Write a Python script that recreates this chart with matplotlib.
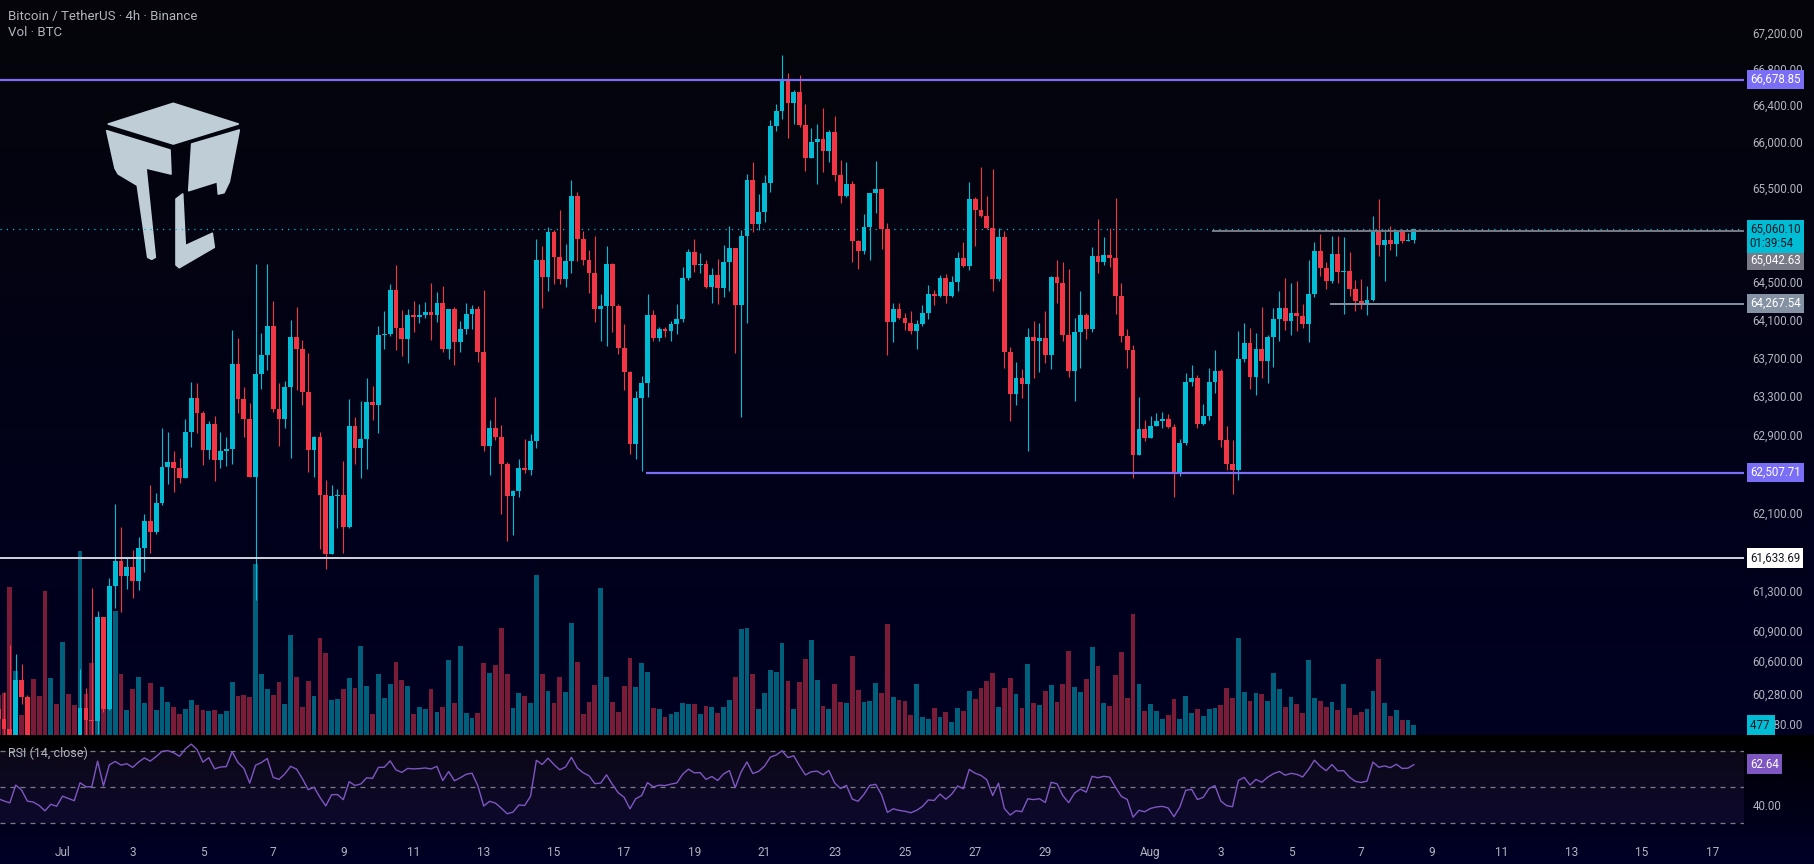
import numpy as np
import pandas as pd
import matplotlib
matplotlib.use("Agg")
import matplotlib.pyplot as plt
import matplotlib.dates as mdates
from matplotlib.patches import Polygon
from matplotlib.ticker import FixedLocator, NullLocator, NullFormatter

plt.rcParams["font.family"] = ["Roboto", "DejaVu Sans"]

# BTCUSDT 4h candles, first bar 2024-06-29 04:00, one row per day
start = "2024-06-29 04:00"
first_open = 60120

close = [
    60025, 59930, 59860, 60414, 60239,                # Jun 29
    59800, 59760, 59620, 59380, 59560, 59480,         # Jun 30
    59760, 59680, 59600, 60137, 60011, 60008,         # Jul 1
    61043, 60127, 61354, 61608, 61456, 61547,
    61405, 61740, 62014, 61902, 62197, 62566,
    62617, 62556, 62453, 62927, 63280, 63124,
    62741, 63010, 62638, 62731, 62751, 63634,         # Jul 5
    63269, 63062, 62463, 63530, 63728, 64033,
    63165, 63062, 63394, 63917, 63791, 63342,
    62741, 62876, 62279, 61679, 62269, 62279,
    61953, 62989, 62762, 62855, 63238, 63207,
    63938, 63948, 64412, 64011, 63896, 64148,         # Jul 10
    64127, 64148, 64180, 64148, 64275, 63791,
    64212, 63864, 64001, 64159, 64212, 63760,
    62782, 62969, 62876, 62597, 62269, 62320,
    62556, 62535, 62835, 64731, 64551, 65030,
    64763, 64530, 64720, 65416, 64955, 64731,         # Jul 15
    64593, 64212, 64243, 64689, 64243, 63801,
    63550, 62803, 63280, 63436, 64148, 63906,
    64001, 63980, 64054, 64106, 64540, 64816,
    64678, 64689, 64444, 64572, 64433, 64710,
    64859, 64254, 64987, 65588, 65115, 65244,         # Jul 20
    65556, 66172, 66336, 66664, 66423, 66544,
    66183, 65827, 66000, 66032, 65902, 66108,
    65642, 65416, 65545, 64933, 64827, 65083,
    65448, 65491, 65061, 64075, 64212, 64117,
    64064, 63980, 64054, 64170, 64370, 64349,         # Jul 25
    64540, 64349, 64498, 64752, 64667, 65384,
    65266, 65201, 65072, 64530, 64976, 63760,
    63322, 63488, 63425, 63917, 63875, 63906,
    63728, 64551, 64487, 63938, 63561, 63969,
    64148, 64001, 64773, 64710, 64784, 64752,         # Jul 30
    64349, 63927, 63781, 62690, 62958, 62866,
    62989, 63041, 63062, 62979, 62505, 62814,         # Aug 1
    63446, 63488, 63010, 63093, 63446, 63561,
    62845, 62597, 62535, 63686, 63854, 63498,
    63791, 63665, 63917, 64106, 64222, 64085,
    64170, 64138, 64054, 64370, 64827, 64646,         # Aug 5
    64508, 64795, 64604, 64614, 64423, 64296,
    64264, 64307, 65030, 64890, 64944, 64901,
    65030, 64933, 64944, 65060.10,                    # Aug 8
]

high = [
    60180, 60295, 60764, 60674, 60573,
    60265, 59860, 59800, 59650, 59620, 59600,
    59820, 59800, 59720, 60523, 60335, 61334,
    61103, 61043, 61435, 62187, 61953, 61638,
    61719, 61851, 62085, 62382, 62300, 62969,
    62927, 62731, 62658, 63061, 63446, 63436,
    63145, 63041, 63093, 62927, 62876, 63990,
    63906, 63394, 63228, 64689, 63958, 64689,
    64296, 63436, 63457, 64096, 64233, 63885,
    63749, 62886, 62927, 62433, 62382, 62341,
    62628, 63269, 63082, 63249, 63488, 63405,
    64033, 64190, 64476, 64678, 64201, 64212,
    64296, 64264, 64285, 64487, 64391, 64455,
    64212, 64233, 64085, 64275, 64254, 64243,
    64412, 63051, 63290, 63000, 62617, 62330,
    62648, 62855, 62907, 64955, 64880, 65083,
    65051, 65266, 64901, 65588, 65459, 65040,
    64837, 64987, 64370, 64880, 64699, 64264,
    64054, 63561, 63353, 63509, 64370, 64201,
    64022, 64022, 64085, 64264, 64657, 64848,
    64955, 64805, 64731, 64646, 64741, 64890,
    65094, 64859, 65051, 65653, 65783, 65438,
    65642, 66238, 66412, 66950, 66752, 66566,
    66730, 66412, 66151, 66194, 66369, 66130,
    66282, 65805, 65783, 65577, 64944, 65223,
    65448, 65794, 65491, 65126, 64275, 64275,
    64170, 64190, 64096, 64254, 64466, 64412,
    64572, 64583, 64561, 64816, 64922, 65567,
    65405, 65729, 65416, 65708, 65072, 65040,
    63812, 63655, 63582, 64011, 64085, 64064,
    64190, 64561, 64731, 64710, 64636, 64117,
    64402, 64170, 64869, 65169, 64976, 65072,
    65395, 64487, 64001, 63833, 63290, 63051,
    63093, 63124, 63134, 63114, 63010, 62855,
    63540, 63623, 63519, 63217, 63592, 63781,
    63582, 62989, 62845, 63980, 64064, 64011,
    63958, 64233, 63938, 64222, 64402, 64540,
    64487, 64508, 64264, 64731, 64922, 65008,
    64710, 64987, 64987, 64976, 64816, 64519,
    64529, 64455, 65201, 65384, 65061, 65094,
    65051, 65061, 65019, 65061,
]

low = [
    59950, 59850, 59800, 59820, 60176,
    59720, 59650, 59560, 59300, 59340, 59420,
    59460, 59620, 59540, 59560, 59850, 59860,
    59875, 60090, 60117, 61133, 61093, 61324,
    61234, 61314, 61496, 61689, 61880, 62177,
    62392, 62310, 62402, 62453, 62772, 62917,
    62587, 62648, 62422, 62556, 62576, 62597,
    63124, 62876, 62463, 61214, 63373, 63571,
    63134, 62782, 62969, 62658, 63363, 63207,
    62515, 62463, 61729, 61526, 61679, 61942,
    61689, 61942, 62597, 62453, 62545, 63051,
    62917, 63791, 63927, 63781, 63718, 63644,
    63969, 64064, 64117, 63885, 64075, 63760,
    63686, 63623, 63760, 63948, 64001, 63655,
    62731, 62484, 62845, 62085, 61810, 61871,
    62259, 62505, 62484, 62762, 64222, 64402,
    64476, 64476, 64444, 64593, 64720, 64678,
    64381, 64075, 63875, 63823, 63969, 63739,
    63363, 62700, 62648, 62525, 63290, 63875,
    63875, 63917, 63875, 63948, 64075, 64519,
    64604, 64593, 64433, 64275, 64264, 64338,
    64402, 63750, 63082, 64064, 65030, 65051,
    65137, 65459, 66118, 66249, 66043, 66194,
    66162, 65686, 65913, 65545, 65675, 65783,
    65577, 65341, 65405, 64710, 64636, 64795,
    64731, 65233, 64848, 63728, 63864, 64106,
    63990, 63948, 63791, 64033, 64106, 64254,
    64338, 64275, 64338, 64402, 64657, 64625,
    64880, 65190, 65061, 64402, 64508, 63592,
    63041, 63207, 63280, 62731, 63488, 63550,
    63644, 63582, 64275, 63875, 63498, 63249,
    63592, 63896, 63969, 64593, 64678, 64657,
    64159, 63864, 63592, 62453, 62690, 62835,
    62866, 63000, 62969, 62969, 62259, 62474,
    62793, 63405, 62969, 63000, 63051, 63332,
    62772, 62535, 62289, 62433, 63655, 63373,
    63311, 63488, 63436, 63603, 63875, 63990,
    63938, 63980, 64011, 63864, 64338, 64561,
    64423, 64487, 64487, 64159, 64349, 64190,
    64212, 64148, 64296, 64773, 64508, 64837,
    64773, 64912, 64933, 64912,
]

volume = [
    1910, 2000, 7060, 3050, 950,
    1670, 2670, 1860, 6870, 2720, 1480,
    4440, 1960, 1430, 8780, 1960, 3430,
    5250, 3820, 4290, 5920, 2910, 1190,
    2190, 2770, 1530, 2480, 1190, 2290,
    1570, 1340, 1000, 1240, 1670, 1430,
    1190, 1150, 1190, 1000, 1150, 2530,
    1860, 1910, 1810, 8160, 2910, 2190,
    1910, 2530, 1480, 4770, 2770, 1340,
    2580, 1860, 4630, 3910, 1670, 1720,
    2190, 2720, 2240, 4250, 2340, 1000,
    2910, 1770, 2430, 3480, 2620, 2340,
    1000, 1340, 1240, 2190, 1100, 1340,
    3580, 1530, 4250, 1050, 810, 1050,
    3430, 2960, 3340, 5100, 2910, 1290,
    2000, 1860, 1530, 7630, 2910, 2100,
    1530, 2770, 2050, 5340, 3480, 1000,
    1570, 2390, 7010, 2770, 1570, 1100,
    2340, 3670, 2290, 3430, 3010, 1290,
    1240, 860, 1000, 1100, 1530, 1480,
    1480, 1000, 1380, 1340, 1050, 1340,
    1670, 2770, 5060, 5100, 2910, 1240,
    2000, 3100, 3010, 4390, 2580, 1240,
    2530, 3630, 4530, 2620, 1380, 1240,
    2430, 1570, 1530, 3770, 2150, 1570,
    1620, 2480, 2000, 5300, 1810, 1670,
    1620, 950, 2430, 860, 760, 1290,
    860, 1100, 620, 1290, 1150, 2100,
    1720, 2240, 2580, 2960, 1340, 2240,
    2720, 1960, 1290, 3390, 1530, 1430,
    2100, 2390, 1570, 2430, 4010, 2290,
    2050, 2670, 4200, 3290, 1530, 1380,
    2860, 3960, 1770, 5770, 2430, 1150,
    1480, 1150, 760, 950, 1720, 760,
    1860, 1050, 1240, 910, 1240, 1290,
    1430, 2240, 1770, 4630, 2050, 1620,
    2000, 1960, 1620, 2960, 2190, 1340,
    1810, 1480, 1050, 3580, 1770, 1620,
    1340, 1570, 1190, 2430, 1290, 950,
    1100, 1240, 2100, 3630, 1530, 910,
    1190, 720, 720, 477,
]

# horizontal levels drawn on the chart: (price, start time or None, colour)
levels = [
    (66678.85, None, "#7b6ef6"),
    (62507.71, "2024-07-17 15:00", "#7b6ef6"),
    (61633.69, None, "#d1d4dc"),
    (65042.63, "2024-08-02 18:00", "#787b86"),
    (64267.54, "2024-08-06 03:00", "#8592a3"),
]
last_price = 65060.10
countdown = "01:39:54"
rsi_last_shown = 62.64

price_ticks = [67200, 66800, 66400, 66000, 65500, 64500, 64100, 63700, 63300,
               62900, 62100, 61700, 61300, 60900, 60600, 60280, 59980]
date_ticks = ["2024-07-01", "2024-07-03", "2024-07-05", "2024-07-07", "2024-07-09",
              "2024-07-11", "2024-07-13", "2024-07-15", "2024-07-17", "2024-07-19",
              "2024-07-21", "2024-07-23", "2024-07-25", "2024-07-27", "2024-07-29",
              "2024-08-01", "2024-08-03", "2024-08-05", "2024-08-07", "2024-08-09",
              "2024-08-11", "2024-08-13", "2024-08-15", "2024-08-17"]
date_labels = ["Jul", "3", "5", "7", "9", "11", "13", "15", "17", "19", "21", "23",
               "25", "27", "29", "Aug", "3", "5", "7", "9", "11", "13", "15", "17"]

RSI_LEN = 14
RSI_SEED_GAIN = 110.0
RSI_SEED_LOSS = 135.0

UP = "#00bcd4"
DOWN = "#f23645"
UP_VOL = "#005f7a"
DOWN_VOL = "#7a1b38"
TXT = "#b2b5be"
PURPLE = "#7e57c2"

W, H = 1815, 864


def wilder_rsi(closes, prev_close, seed_gain, seed_loss, n):
    chg = np.diff(np.r_[prev_close, closes])
    ag, al = seed_gain, seed_loss
    out = []
    for d in chg:
        ag = (ag * (n - 1) + max(d, 0)) / n
        al = (al * (n - 1) + max(-d, 0)) / n
        out.append(100 - 100 / (1 + ag / al))
    return np.array(out)


c = np.array(close, dtype=float)
o = np.r_[first_open, c[:-1]]
hi = np.maximum(np.array(high, dtype=float), np.maximum(o, c))
lo = np.minimum(np.array(low, dtype=float), np.minimum(o, c))
vol = np.array(volume, dtype=float)
t = pd.date_range(start, periods=len(c), freq="4h")
x = mdates.date2num(t)
up = c >= o
rsi = wilder_rsi(c, first_open, RSI_SEED_GAIN, RSI_SEED_LOSS, RSI_LEN)

day0 = mdates.date2num(pd.Timestamp("2024-07-01"))
xlim = (day0 - 1.781, day0 + 47.906)
bar_w = 0.82 / 6

fig = plt.figure(figsize=(W / 100, H / 100), dpi=100)

# background: one dark gradient per pane
bg = fig.add_axes([0, 0, 1, 1], zorder=-10)
rows = np.zeros((H, 1, 3))
top_c, bot_c = np.array([5, 5, 10]) / 255, np.array([0, 0, 34]) / 255
k = np.linspace(0, 1, 735)[:, None]
rows[:735, 0, :] = top_c * (1 - k) + bot_c * k
k = np.linspace(0, 1, H - 735)[:, None]
rows[735:, 0, :] = np.array([0, 0, 0]) * (1 - k) + np.array([0, 0, 40]) / 255 * k
bg.imshow(rows, extent=(0, W, H, 0), aspect="auto", interpolation="bilinear")
bg.set_xlim(0, W)
bg.set_ylim(H, 0)
bg.axis("off")

# logo
logo_col = "#bfcdd6"
logo_parts = [
    [(108.3, 124), (173.3, 103.3), (238.3, 124), (173.3, 144)],
    [(106.7, 130.7), (170, 150), (171, 174), (146, 168), (155.3, 257.3),
     (151.7, 259.3), (147.7, 257.3), (137.3, 185.3), (118.3, 174), (115, 168.3)],
    [(191.7, 144), (239.3, 130), (229.3, 181.7), (224, 192.7), (218.3, 194),
     (217.3, 181.7), (188.7, 190.7)],
    [(176, 199), (182.7, 194), (185.3, 245.7), (212.3, 233.3), (214.3, 247.3),
     (179.3, 267.7), (176, 265)],
]
for part in logo_parts:
    bg.add_patch(Polygon(part, closed=True, fc=logo_col, ec=logo_col, lw=1.2,
                         joinstyle="round"))

fig.text(8 / W, 1 - 16.5 / H, "Bitcoin / TetherUS · 4h · Binance", color=TXT,
         fontsize=9.5, va="center", ha="left")
fig.text(8 / W, 1 - 33 / H, "Vol · BTC", color=TXT, fontsize=9.5, va="center", ha="left")

# main price pane
pane_w = 1744 / W
ax = fig.add_axes([0, 1 - 735 / H, pane_w, 735 / H])
vax = ax.twinx()
ax.set_zorder(vax.get_zorder() + 1)
ax.patch.set_visible(False)
vax.patch.set_visible(False)

vax.bar(x, vol, width=bar_w, color=np.where(up, UP_VOL, DOWN_VOL), lw=0)
vax.set_ylim(0, 35060)
vax.set_yticks([])

ax.set_yscale("log")
ax.vlines(x, lo, hi, colors=np.where(up, UP, DOWN), lw=0.8, zorder=3)
ax.bar(x, np.maximum(np.abs(c - o), 8), bottom=np.minimum(o, c), width=bar_w,
       color=np.where(up, UP, DOWN), lw=0, zorder=4)

ax.axhline(last_price, color=UP, lw=0.9, ls=(0, (1, 4)), zorder=2)
for price, t0, col in levels:
    x0 = xlim[0] if t0 is None else mdates.date2num(pd.Timestamp(t0))
    lw = 1.6 if col == "#7b6ef6" else 1.4
    ax.hlines(price, x0, xlim[1], color=col, lw=lw, zorder=5)

ax.set_xlim(*xlim)
ax.set_ylim(59868, 67558)
ax.yaxis.tick_right()
ax.yaxis.set_major_locator(FixedLocator(price_ticks))
ax.yaxis.set_major_formatter(plt.FuncFormatter(lambda v, p: f"{v:,.2f}"))
ax.yaxis.set_minor_locator(NullLocator())
ax.yaxis.set_minor_formatter(NullFormatter())
ax.tick_params(axis="y", length=0, pad=6, labelsize=8.3, labelcolor=TXT)
ax.set_xticks([])
for a in (ax, vax):
    for s in a.spines.values():
        s.set_visible(False)

# price tags on the axis
tag_kw = dict(textcoords="offset points", ha="left", fontsize=8.3,
              annotation_clip=False, zorder=10)
tags = [
    (66678.85, "66,678.85", "#7b6ef6", "white", 0),
    (62507.71, "62,507.71", "#7b6ef6", "white", 0),
    (61633.69, "61,633.69", "white", "#131722", 0),
    (65042.63, "65,042.63", "#787b86", "white", -21),
    (64267.54, "64,267.54", "#8592a3", "white", 0),
]
for price, txt, fc, tc, dy in tags:
    ax.annotate(txt, xy=(1, price), xycoords=("axes fraction", "data"),
                xytext=(4.2, dy), va="center", color=tc,
                bbox=dict(boxstyle="square,pad=0.28", fc=fc, ec="none"), **tag_kw)
ax.annotate(f"{last_price:,.2f}\n{countdown}", xy=(1, last_price),
            xycoords=("axes fraction", "data"), xytext=(4.2, 4.6),
            va="top", color="#131722", linespacing=1.15,
            bbox=dict(boxstyle="square,pad=0.28", fc=UP, ec="none"), **tag_kw)
# current volume tag, drawn on the price axes so it sits over the price labels
ax.annotate(f"{vol[-1]:.0f} ", xy=(1, vol[-1]), xycoords=(ax.transAxes, vax.transData),
            xytext=(4.2, 0), va="center", color="#131722",
            bbox=dict(boxstyle="square,pad=0.28", fc=UP, ec="none"), **tag_kw)

# RSI pane
rax = fig.add_axes([0, 1 - 836 / H, pane_w, 99 / H])
rax.patch.set_visible(False)
rax.axhspan(30, 70, color=PURPLE, alpha=0.1, lw=0)
for lv in (70, 50, 30):
    rax.axhline(lv, color="#787b86", lw=0.9, ls=(0, (4, 4)))
rax.plot(x, rsi, color=PURPLE, lw=1.0)
rax.set_xlim(*xlim)
rax.set_ylim(23.0, 77.55)
rax.yaxis.tick_right()
rax.set_yticks([40, 60])
rax.set_yticklabels(["40.00", "60.00"])
rax.tick_params(axis="y", length=0, pad=6, labelsize=8.3, labelcolor=TXT)
rax.set_xticks(mdates.date2num(pd.to_datetime(date_ticks)))
rax.set_xticklabels(date_labels)
rax.tick_params(axis="x", length=0, pad=7, labelsize=8.5, labelcolor=TXT)
for s in rax.spines.values():
    s.set_visible(False)
rax.text(8 / 1744, 1 - 16 / 99, "RSI (14, close)", transform=rax.transAxes,
         color=TXT, fontsize=9, va="center", ha="left")
rax.annotate(f"{rsi_last_shown:.2f}", xy=(1, rsi_last_shown),
             xycoords=("axes fraction", "data"), xytext=(4.2, 0), va="center",
             color="white", bbox=dict(boxstyle="square,pad=0.28", fc=PURPLE, ec="none"),
             **tag_kw)

fig.savefig("out.png", dpi=100)
